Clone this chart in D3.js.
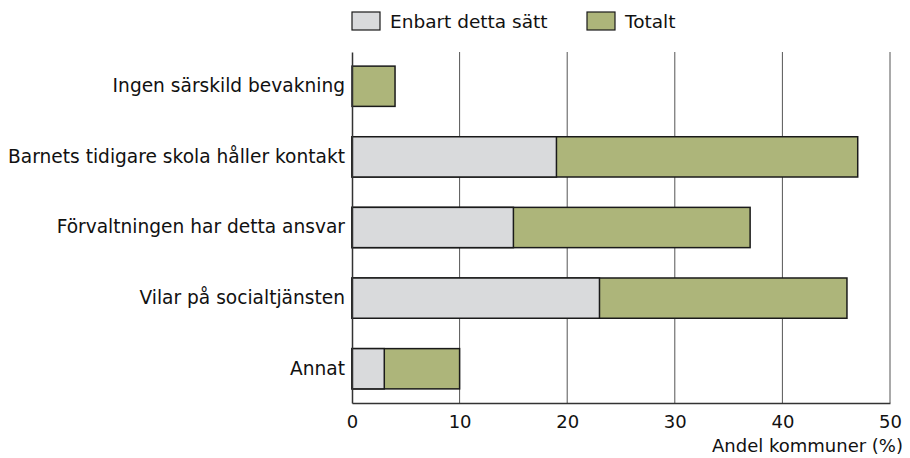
<!DOCTYPE html>
<html>
<head>
<meta charset="utf-8">
<script src="https://cdn.jsdelivr.net/npm/d3@7"></script>
<style>
  body { margin: 0; background: #fff; }
  text { font-family: 'DejaVu Sans', sans-serif; fill: #111; }
</style>
</head>
<body>
<div id="chart"></div>
<script>
// data
const categories = [
  'Ingen särskild bevakning',
  'Barnets tidigare skola håller kontakt',
  'Förvaltningen har detta ansvar',
  'Vilar på socialtjänsten',
  'Annat'
]
const enbart = [0, 19, 15, 23, 3]
const totalt = [4, 47, 37, 46, 10]
const seriesNames = ['Enbart detta sätt', 'Totalt']
const xTicks = [0, 10, 20, 30, 40, 50]

const width = 910
const height = 458
const margin = { top: 52, right: 20, bottom: 55, left: 352 }
const fontFamily = "'DejaVu Sans', sans-serif"

const svg = d3.select('#chart').append('svg')
  .attr('width', width)
  .attr('height', height)

const x = d3.scaleLinear()
  .domain([0, 50])
  .range([margin.left, 890])

const y = d3.scaleBand()
  .domain(categories)
  .range([margin.top, height - margin.bottom])
  .paddingInner(0.43)
  .paddingOuter(0.2)

const colors = { enbart: '#d9dadc', totalt: '#adb57a' }

// grid lines
svg.append('g')
  .selectAll('line')
  .data(xTicks.filter(d => d > 0))
  .enter()
  .append('line')
  .attr('x1', d => x(d))
  .attr('x2', d => x(d))
  .attr('y1', margin.top)
  .attr('y2', height - margin.bottom)
  .attr('stroke', '#555')
  .attr('stroke-width', 1)

// totals first, then the "enbart" part on top
const rows = categories.map((c, i) => ({ c, e: enbart[i], t: totalt[i] }))

svg.append('g')
  .selectAll('rect')
  .data(rows)
  .enter()
  .append('rect')
  .attr('x', x(0))
  .attr('y', d => y(d.c))
  .attr('width', d => x(d.t) - x(0))
  .attr('height', y.bandwidth())
  .attr('fill', colors.totalt)
  .attr('stroke', '#1a1a1a')
  .attr('stroke-width', 1.5)

svg.append('g')
  .selectAll('rect')
  .data(rows.filter(d => d.e > 0))
  .enter()
  .append('rect')
  .attr('x', x(0))
  .attr('y', d => y(d.c))
  .attr('width', d => x(d.e) - x(0))
  .attr('height', y.bandwidth())
  .attr('fill', colors.enbart)
  .attr('stroke', '#1a1a1a')
  .attr('stroke-width', 1.5)

// axes
const xAxis = svg.append('g')
  .attr('transform', 'translate(0,' + (height - margin.bottom) + ')')
  .call(d3.axisBottom(x).tickValues(xTicks).tickSize(0).tickPadding(12))
xAxis.select('.domain').attr('stroke', '#333').attr('stroke-width', 1.5)
xAxis.selectAll('text')
  .attr('font-family', fontFamily)
  .style('font-size', '18px')
  .attr('fill', '#111')

const yAxis = svg.append('g')
  .attr('transform', 'translate(' + margin.left + ',0)')
  .call(d3.axisLeft(y).tickSize(0).tickPadding(7))
yAxis.select('.domain').attr('stroke', '#333').attr('stroke-width', 1.5)
yAxis.selectAll('text')
  .attr('font-family', fontFamily)
  .style('font-size', '18.6px')
  .attr('fill', '#111')

// axis title
svg.append('text')
  .attr('x', 903)
  .attr('y', 452)
  .attr('text-anchor', 'end')
  .style('font-size', '18px')
  .text('Andel kommuner (%)')

// legend
const legendX = [352, 587]
const legend = svg.append('g')
  .selectAll('g')
  .data(seriesNames)
  .enter()
  .append('g')
  .attr('transform', (d, i) => 'translate(' + legendX[i] + ',12)')
legend.append('rect')
  .attr('width', 28)
  .attr('height', 18)
  .attr('fill', (d, i) => i === 0 ? colors.enbart : colors.totalt)
  .attr('stroke', '#1a1a1a')
  .attr('stroke-width', 1.2)
legend.append('text')
  .attr('x', 38)
  .attr('y', 16)
  .style('font-size', '18.5px')
  .text(d => d)
</script>
</body>
</html>
